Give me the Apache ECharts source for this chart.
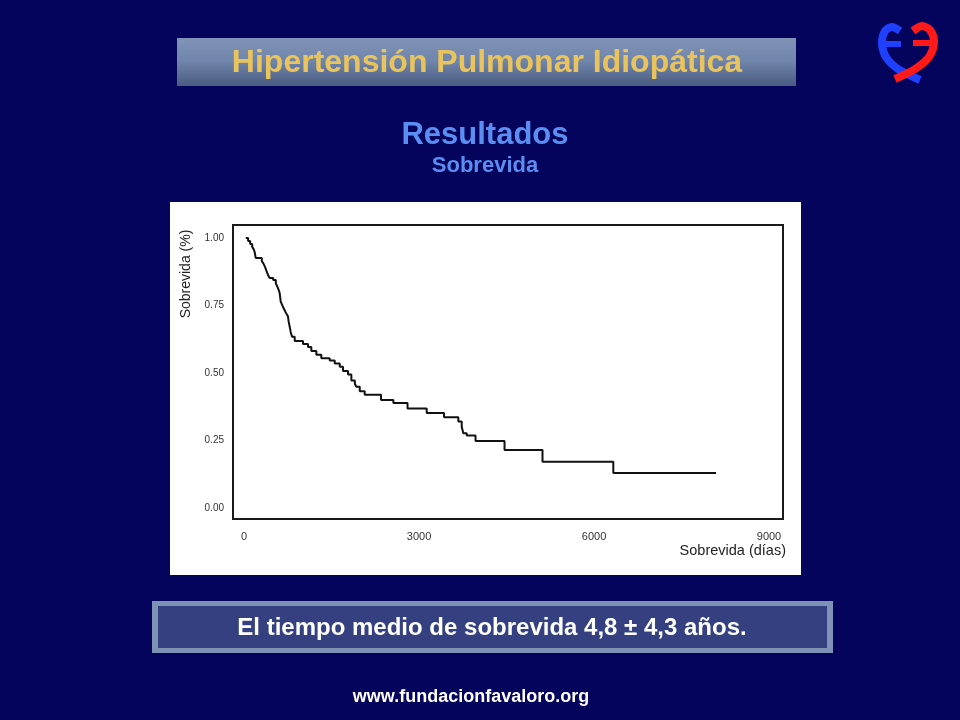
<!DOCTYPE html>
<html>
<head>
<meta charset="utf-8">
<script src="https://cdn.jsdelivr.net/npm/echarts@6/dist/echarts.min.js"></script>
<style>
html,body{margin:0;padding:0;background:#04045c;}
#c{width:960px;height:720px;}
</style>
</head>
<body>
<div id="c"></div>
<script>
// Kaplan-Meier survival: time in days, survival fraction
var days = [30, 70, 105, 140, 170, 185, 200, 305, 335, 360, 385, 411, 440, 500, 545, 571, 595, 612, 620, 629, 650, 669, 690, 708, 730, 754, 765, 783, 800, 823, 869, 1011, 1097, 1154, 1240, 1325, 1469, 1555, 1641, 1697, 1783, 1840, 1900, 1925, 1984, 2069, 2349, 2560, 2803, 3132, 3429, 3674, 3732, 3760, 3818, 3969, 4466, 5117, 6331, 8092];
var survival = [1.0, 0.989, 0.978, 0.967, 0.956, 0.945, 0.926, 0.915, 0.904, 0.893, 0.878, 0.863, 0.852, 0.844, 0.832, 0.82, 0.807, 0.795, 0.78, 0.764, 0.754, 0.744, 0.735, 0.727, 0.718, 0.709, 0.69, 0.671, 0.652, 0.634, 0.618, 0.607, 0.596, 0.581, 0.567, 0.554, 0.546, 0.535, 0.523, 0.507, 0.494, 0.472, 0.46, 0.449, 0.432, 0.419, 0.400, 0.389, 0.368, 0.352, 0.336, 0.32, 0.301, 0.277, 0.268, 0.248, 0.215, 0.171, 0.129, 0.129];
var xTicks = [0, 3000, 6000, 9000];
var yTicks = [0, 0.25, 0.5, 0.75, 1.0];

var title = 'Hipertensión Pulmonar Idiopática';
var subtitle1 = 'Resultados';
var subtitle2 = 'Sobrevida';
var yName = 'Sobrevida (%)';
var xName = 'Sobrevida (días)';
var note = 'El tiempo medio de sobrevida 4,8 ± 4,3 años.';
var footer = 'www.fundacionfavaloro.org';

var pts = days.map(function (d, i) { return [d, survival[i]]; });
var FONT = '"Liberation Sans", Arial, sans-serif';

var chart = echarts.init(document.getElementById('c'), null, {renderer: 'canvas'});
chart.setOption({
  animation: false,
  backgroundColor: '#04045c',
  grid: {
    left: 233, top: 225, width: 550, height: 294,
    show: true, backgroundColor: '#ffffff', borderColor: '#1a1a1a', borderWidth: 2,
    z: 1
  },
  xAxis: {
    type: 'value', min: -189, max: 9240,
    axisLine: {show: false}, axisTick: {show: false}, splitLine: {show: false},
    axisLabel: {customValues: xTicks, margin: 12, color: '#333', fontSize: 11, fontFamily: FONT,
      formatter: function (v) { return String(v); }}
  },
  yAxis: {
    type: 'value', min: -0.041, max: 1.048,
    axisLine: {show: false}, axisTick: {show: false}, splitLine: {show: false},
    axisLabel: {customValues: yTicks, margin: 9, color: '#333', fontSize: 10, fontFamily: FONT,
      formatter: function (v) { return v.toFixed(2); }}
  },
  series: [{
    type: 'line', step: 'end', data: pts, showSymbol: false, z: 5,
    lineStyle: {color: '#111', width: 2}
  }],
  graphic: [
    {type: 'rect', z: -1, shape: {x: 170, y: 202, width: 631, height: 373}, style: {fill: '#ffffff'}},
    {type: 'rect', z: -1, shape: {x: 177, y: 38, width: 619, height: 48},
      style: {fill: new echarts.graphic.LinearGradient(0, 0, 0, 1, [
        {offset: 0, color: '#8194b8'}, {offset: 0.5, color: '#6f84aa'}, {offset: 1, color: '#4a5a80'}])}},
    {type: 'text', z: 10, x: 487, y: 63,
      style: {text: title, fill: '#e9c45c', font: 'bold 32px ' + FONT, align: 'center', verticalAlign: 'middle',
        shadowColor: 'rgba(20,20,40,0.9)', shadowOffsetX: 2, shadowOffsetY: 2, shadowBlur: 1}},
    {type: 'text', z: 10, x: 485, y: 135,
      style: {text: subtitle1, fill: '#5b8ef2', font: 'bold 31px ' + FONT, align: 'center', verticalAlign: 'middle'}},
    {type: 'text', z: 10, x: 485, y: 166,
      style: {text: subtitle2, fill: '#5b8ef2', font: 'bold 22px ' + FONT, align: 'center', verticalAlign: 'middle'}},
    {type: 'text', z: 10, x: 186, y: 274, rotation: Math.PI / 2,
      style: {text: yName, fill: '#222', font: '14px ' + FONT, align: 'center', verticalAlign: 'middle'}},
    {type: 'text', z: 10, x: 786, y: 551,
      style: {text: xName, fill: '#222', font: '14.5px ' + FONT, align: 'right', verticalAlign: 'middle'}},
    {type: 'rect', z: -1, shape: {x: 152, y: 601, width: 681, height: 52}, style: {fill: '#7e92b6'}},
    {type: 'rect', z: -1, shape: {x: 158, y: 606, width: 669, height: 42}, style: {fill: '#34407f'}},
    {type: 'text', z: 10, x: 492, y: 628,
      style: {text: note, fill: '#ffffff', font: 'bold 24px ' + FONT, align: 'center', verticalAlign: 'middle'}},
    {type: 'text', z: 10, x: 471, y: 697,
      style: {text: footer, fill: '#ffffff', font: 'bold 18px ' + FONT, align: 'center', verticalAlign: 'middle'}},
    // logo
    {type: 'polyline', z: 10,
      shape: {points: [[900, 31], [892, 27], [885, 31], [882, 43], [886, 57], [898, 69], [920, 80]], smooth: 0.3},
      style: {fill: null, stroke: '#2040ff', lineWidth: 8}},
    {type: 'line', z: 10, shape: {x1: 884, y1: 44, x2: 901, y2: 44}, style: {stroke: '#2040ff', lineWidth: 6}},
    {type: 'polyline', z: 11,
      shape: {points: [[913, 31], [922, 26], [930, 30], [934, 42], [929, 57], [915, 69], [895, 79]], smooth: 0.3},
      style: {fill: null, stroke: '#ff1a1a', lineWidth: 8}},
    {type: 'line', z: 11, shape: {x1: 913, y1: 43, x2: 932, y2: 43}, style: {stroke: '#ff1a1a', lineWidth: 6}}
  ]
});
</script>
</body>
</html>
